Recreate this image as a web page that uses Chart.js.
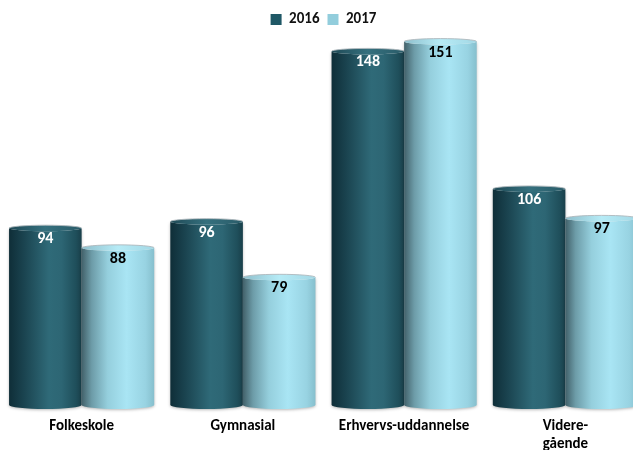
<!DOCTYPE html>
<html>
<head>
<meta charset="utf-8">
<script src="https://cdn.jsdelivr.net/npm/chart.js@4/dist/chart.umd.min.js"></script>
<style>
  html, body { margin: 0; padding: 0; overflow: hidden; background: #fff; }
  #wrap { width: 648px; height: 450px; position: relative; }
</style>
</head>
<body>
<div id="wrap"><canvas id="c"></canvas></div>
<script>
// Education categories and counts per year
const categories = ['Folkeskole', 'Gymnasial', 'Erhvervs-uddannelse', ['Videre-', 'gående']];
const seriesNames = ['2016', '2017'];
const values2016 = [94, 96, 148, 106];
const values2017 = [88, 79, 151, 97];

const FONT = 'Carlito, Lato, "Liberation Sans", sans-serif';

// Colour ramps for the cylinder bodies and caps (left → right)
const palettes = [
  {
    solid: '#1f5866',
    label: '#ffffff',
    body: [[0, '#0f2e38'], [0.2, '#1a434f'], [0.55, '#2f6a78'], [0.72, '#2d6674'], [0.92, '#1f4f5b'], [1, '#193f4a']],
    cap:  [[0, '#1f4a56'], [0.5, '#35707e'], [1, '#2a5c69']]
  },
  {
    solid: '#92cddc',
    label: '#000000',
    body: [[0, '#42616a'], [0.14, '#6d9ca8'], [0.36, '#95cfdd'], [0.62, '#a9e5f4'], [0.88, '#98d3e2'], [1, '#86bfcd']],
    cap:  [[0, '#8ebfcc'], [0.5, '#b6ebf6'], [1, '#a3d8e5']]
  }
];

function ramp(ctx, x0, x1, stops) {
  const g = ctx.createLinearGradient(x0, 0, x1, 0);
  stops.forEach(s => g.addColorStop(s[0], s[1]));
  return g;
}

// Draws every bar element as a shaded cylinder with its value inside the top
const cylinderBars = {
  id: 'cylinderBars',
  beforeDatasetDraw() { return false; },
  afterDatasetsDraw(chart) {
    const ctx = chart.ctx;
    const yScale = chart.scales.y;
    const floor = yScale.getPixelForValue(yScale.min);
    chart.data.datasets.forEach((ds, di) => {
      const meta = chart.getDatasetMeta(di);
      const pal = palettes[di];
      meta.data.forEach((el, i) => {
        const { x, y, base, width } = el.getProps(['x', 'y', 'base', 'width'], true);
        const bottom = Math.min(base, floor);
        const rx = width / 2;
        const ryTop = 3;
        const ryBottom = 4;
        const left = x - rx, right = x + rx;

        // body, with a soft shadow underneath
        ctx.save();
        ctx.shadowColor = 'rgba(0,0,0,0.28)';
        ctx.shadowBlur = 3;
        ctx.shadowOffsetY = 1;
        ctx.beginPath();
        ctx.moveTo(left, y);
        ctx.lineTo(left, bottom);
        ctx.ellipse(x, bottom, rx, ryBottom, 0, Math.PI, 0, true);
        ctx.lineTo(right, y);
        ctx.ellipse(x, y, rx, ryTop, 0, 0, Math.PI, false);
        ctx.closePath();
        ctx.fillStyle = ramp(ctx, left, right, pal.body);
        ctx.fill();
        ctx.restore();

        // top cap
        ctx.save();
        ctx.beginPath();
        ctx.ellipse(x, y, rx, ryTop, 0, 0, Math.PI * 2);
        ctx.fillStyle = ramp(ctx, left, right, pal.cap);
        ctx.fill();
        ctx.beginPath();
        ctx.ellipse(x, y, rx, ryTop, 0, Math.PI, Math.PI * 2);
        ctx.strokeStyle = 'rgba(175,184,188,0.9)';
        ctx.lineWidth = 1;
        ctx.stroke();
        ctx.restore();

        // value label
        ctx.save();
        ctx.font = 'bold 16px ' + FONT;
        ctx.fillStyle = pal.label;
        ctx.textAlign = 'center';
        ctx.textBaseline = 'middle';
        ctx.fillText(String(ds.data[i]), x, y + 11);
        ctx.restore();
      });
    });
  }
};

new Chart(document.getElementById('c'), {
  type: 'bar',
  data: {
    labels: categories,
    datasets: [
      { label: seriesNames[0], data: values2016, backgroundColor: palettes[0].solid },
      { label: seriesNames[1], data: values2017, backgroundColor: palettes[1].solid }
    ]
  },
  options: {
    responsive: true,
    maintainAspectRatio: false,
    animation: false,
    categoryPercentage: 0.9,
    barPercentage: 1.0,
    layout: { padding: { left: 1, right: 2, top: 4, bottom: -15 } },
    plugins: {
      tooltip: { enabled: false },
      legend: {
        position: 'top',
        labels: {
          boxWidth: 11,
          boxHeight: 11,
          padding: 8,
          color: '#111',
          font: { family: FONT, size: 15, weight: 'bold' }
        }
      }
    },
    scales: {
      x: {
        grid: { display: false, drawTicks: false },
        border: { display: false },
        ticks: {
          color: '#000',
          padding: 12,
          font: { family: FONT, size: 15, weight: 'bold', lineHeight: 1.2 },
          maxRotation: 0,
          autoSkip: false
        }
      },
      y: {
        display: false,
        min: 40,
        max: 152.4
      }
    }
  },
  plugins: [cylinderBars]
});
</script>
</body>
</html>
